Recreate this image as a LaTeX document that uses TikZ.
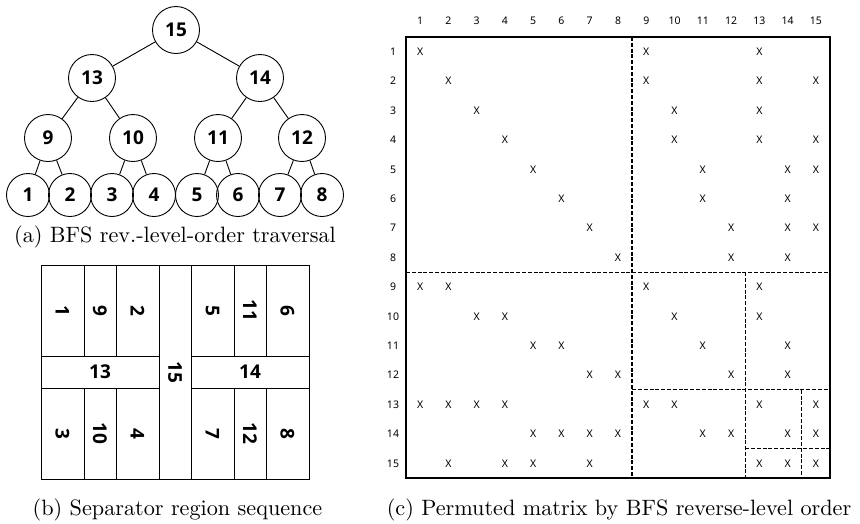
\documentclass[tikz,border=0pt]{standalone}
\usepackage{fontspec}
\newfontfamily\nsans{Noto Sans}
\newfontfamily\bsans{Open Sans}
\newfontfamily\capfont{lmroman10-regular}[Extension=.otf]
\begin{document}
\begin{tikzpicture}[x=1pt,y=-1pt,
  tn/.style={circle,draw,line width=0.9pt,minimum size=47pt,inner sep=0pt,font=\fontsize{19}{19}\selectfont\bsans\bfseries},
  lf/.style={tn,minimum size=43pt},
  edge/.style={line width=0.9pt},
  cellbox/.style={line width=0.8pt},
  sep/.style={font=\fontsize{19}{19}\selectfont\bsans\bfseries},
  rsep/.style={sep,rotate=-90},
  mlab/.style={font=\fontsize{10.5}{11}\selectfont\nsans},
  mx/.style={font=\fontsize{10.5}{11}\selectfont\nsans},
  dline/.style={line width=1.3pt,dash pattern=on 4pt off 1.8pt},
  mframe/.style={line width=1.8pt},
  captext/.style={font=\fontsize{22.2}{25}\selectfont\capfont}]
\useasboundingbox (0,0) rectangle (860,523);
% ---------- (a) tree
\node[tn] (n15) at (176,30) {15};
\node[tn] (n13) at (92,78) {13};
\node[tn] (n14) at (260,78) {14};
\node[tn] (n9) at (48,138) {9};
\node[tn] (n10) at (133,138) {10};
\node[tn] (n11) at (218,138) {11};
\node[tn] (n12) at (302,138) {12};
\node[lf] (n1) at (28,195) {1};
\node[lf] (n2) at (70,195) {2};
\node[lf] (n3) at (112,195) {3};
\node[lf] (n4) at (154,195) {4};
\node[lf] (n5) at (197,195) {5};
\node[lf] (n6) at (238,195) {6};
\node[lf] (n7) at (280,195) {7};
\node[lf] (n8) at (322,195) {8};
\draw[edge] (n15) -- (n13);
\draw[edge] (n15) -- (n14);
\draw[edge] (n13) -- (n9);
\draw[edge] (n13) -- (n10);
\draw[edge] (n14) -- (n11);
\draw[edge] (n14) -- (n12);
\draw[edge] (n9) -- (n1);
\draw[edge] (n9) -- (n2);
\draw[edge] (n10) -- (n3);
\draw[edge] (n10) -- (n4);
\draw[edge] (n11) -- (n5);
\draw[edge] (n11) -- (n6);
\draw[edge] (n12) -- (n7);
\draw[edge] (n12) -- (n8);
\node[captext] (capa) at (175,237) {(a) BFS rev.-level-order traversal};
% ---------- (b) separator regions
\draw[cellbox] (41,265) rectangle (84,356);
\draw[cellbox] (84,265) rectangle (116,356);
\draw[cellbox] (116,265) rectangle (159,356);
\draw[cellbox] (41,356) rectangle (159,388);
\draw[cellbox] (41,388) rectangle (84,479);
\draw[cellbox] (84,388) rectangle (116,479);
\draw[cellbox] (116,388) rectangle (159,479);
\draw[cellbox] (159,265) rectangle (191,479);
\draw[cellbox] (191,265) rectangle (234,356);
\draw[cellbox] (234,265) rectangle (266,356);
\draw[cellbox] (266,265) rectangle (309,356);
\draw[cellbox] (191,356) rectangle (309,388);
\draw[cellbox] (191,388) rectangle (234,479);
\draw[cellbox] (234,388) rectangle (266,479);
\draw[cellbox] (266,388) rectangle (309,479);
\node[rsep] (s1) at (62.5,310.5) {1};
\node[rsep] (s9) at (100,310.5) {9};
\node[rsep] (s2) at (137.5,310.5) {2};
\node[sep] (s13) at (100,372) {13};
\node[rsep] (s3) at (62.5,433.5) {3};
\node[rsep] (s10) at (100,433.5) {10};
\node[rsep] (s4) at (137.5,433.5) {4};
\node[rsep] (s15) at (175,372) {15};
\node[rsep] (s5) at (212.5,310.5) {5};
\node[rsep] (s11) at (250,310.5) {11};
\node[rsep] (s6) at (287.5,310.5) {6};
\node[sep] (s14) at (250,372) {14};
\node[rsep] (s7) at (212.5,433.5) {7};
\node[rsep] (s12) at (250,433.5) {12};
\node[rsep] (s8) at (287.5,433.5) {8};
\node[captext] (capb) at (177.5,510) {(b) Separator region sequence};
% ---------- (c) matrix
\def\cw{28.267}
\def\rh{29.4}
\foreach \i in {1,...,15} {
  \node[mlab] (c\i) at ({406+(\i-0.5)*\cw},21) {\i};
  \node[mlab] (r\i) at (393,{37+(\i-0.5)*\rh}) {\i};
}
\foreach \r/\cl in {1/{1,9,13},2/{2,9,13,15},3/{3,10,13},4/{4,10,13,15},
  5/{5,11,14,15},6/{6,11,14},7/{7,12,14,15},8/{8,12,14},
  9/{1,2,9,13},10/{3,4,10,13},11/{5,6,11,14},12/{7,8,12,14},
  13/{1,2,3,4,9,10,13,15},14/{5,6,7,8,11,12,14,15},15/{2,4,5,7,13,14,15}} {
  \foreach \c in \cl {
    \node[mx] (x\r-\c) at ({406+(\c-0.5)*\cw},{37+(\r-0.5)*\rh}) {X};
  }
}
\draw[dline] ({406+8*\cw},37) -- ({406+8*\cw},478);
\draw[dline] (406,{37+8*\rh}) -- (830,{37+8*\rh});
\draw[dline] ({406+12*\cw},{37+8*\rh}) -- ({406+12*\cw},478);
\draw[dline] ({406+8*\cw},{37+12*\rh}) -- (830,{37+12*\rh});
\draw[dline] ({406+14*\cw},{37+12*\rh}) -- ({406+14*\cw},478);
\draw[dline] ({406+12*\cw},{37+14*\rh}) -- (830,{37+14*\rh});
\draw[mframe] (406,37) rectangle (830,478);
\node[captext] (capc) at (619,509.5) {(c) Permuted matrix by BFS reverse-level order};
\end{tikzpicture}
\end{document}
